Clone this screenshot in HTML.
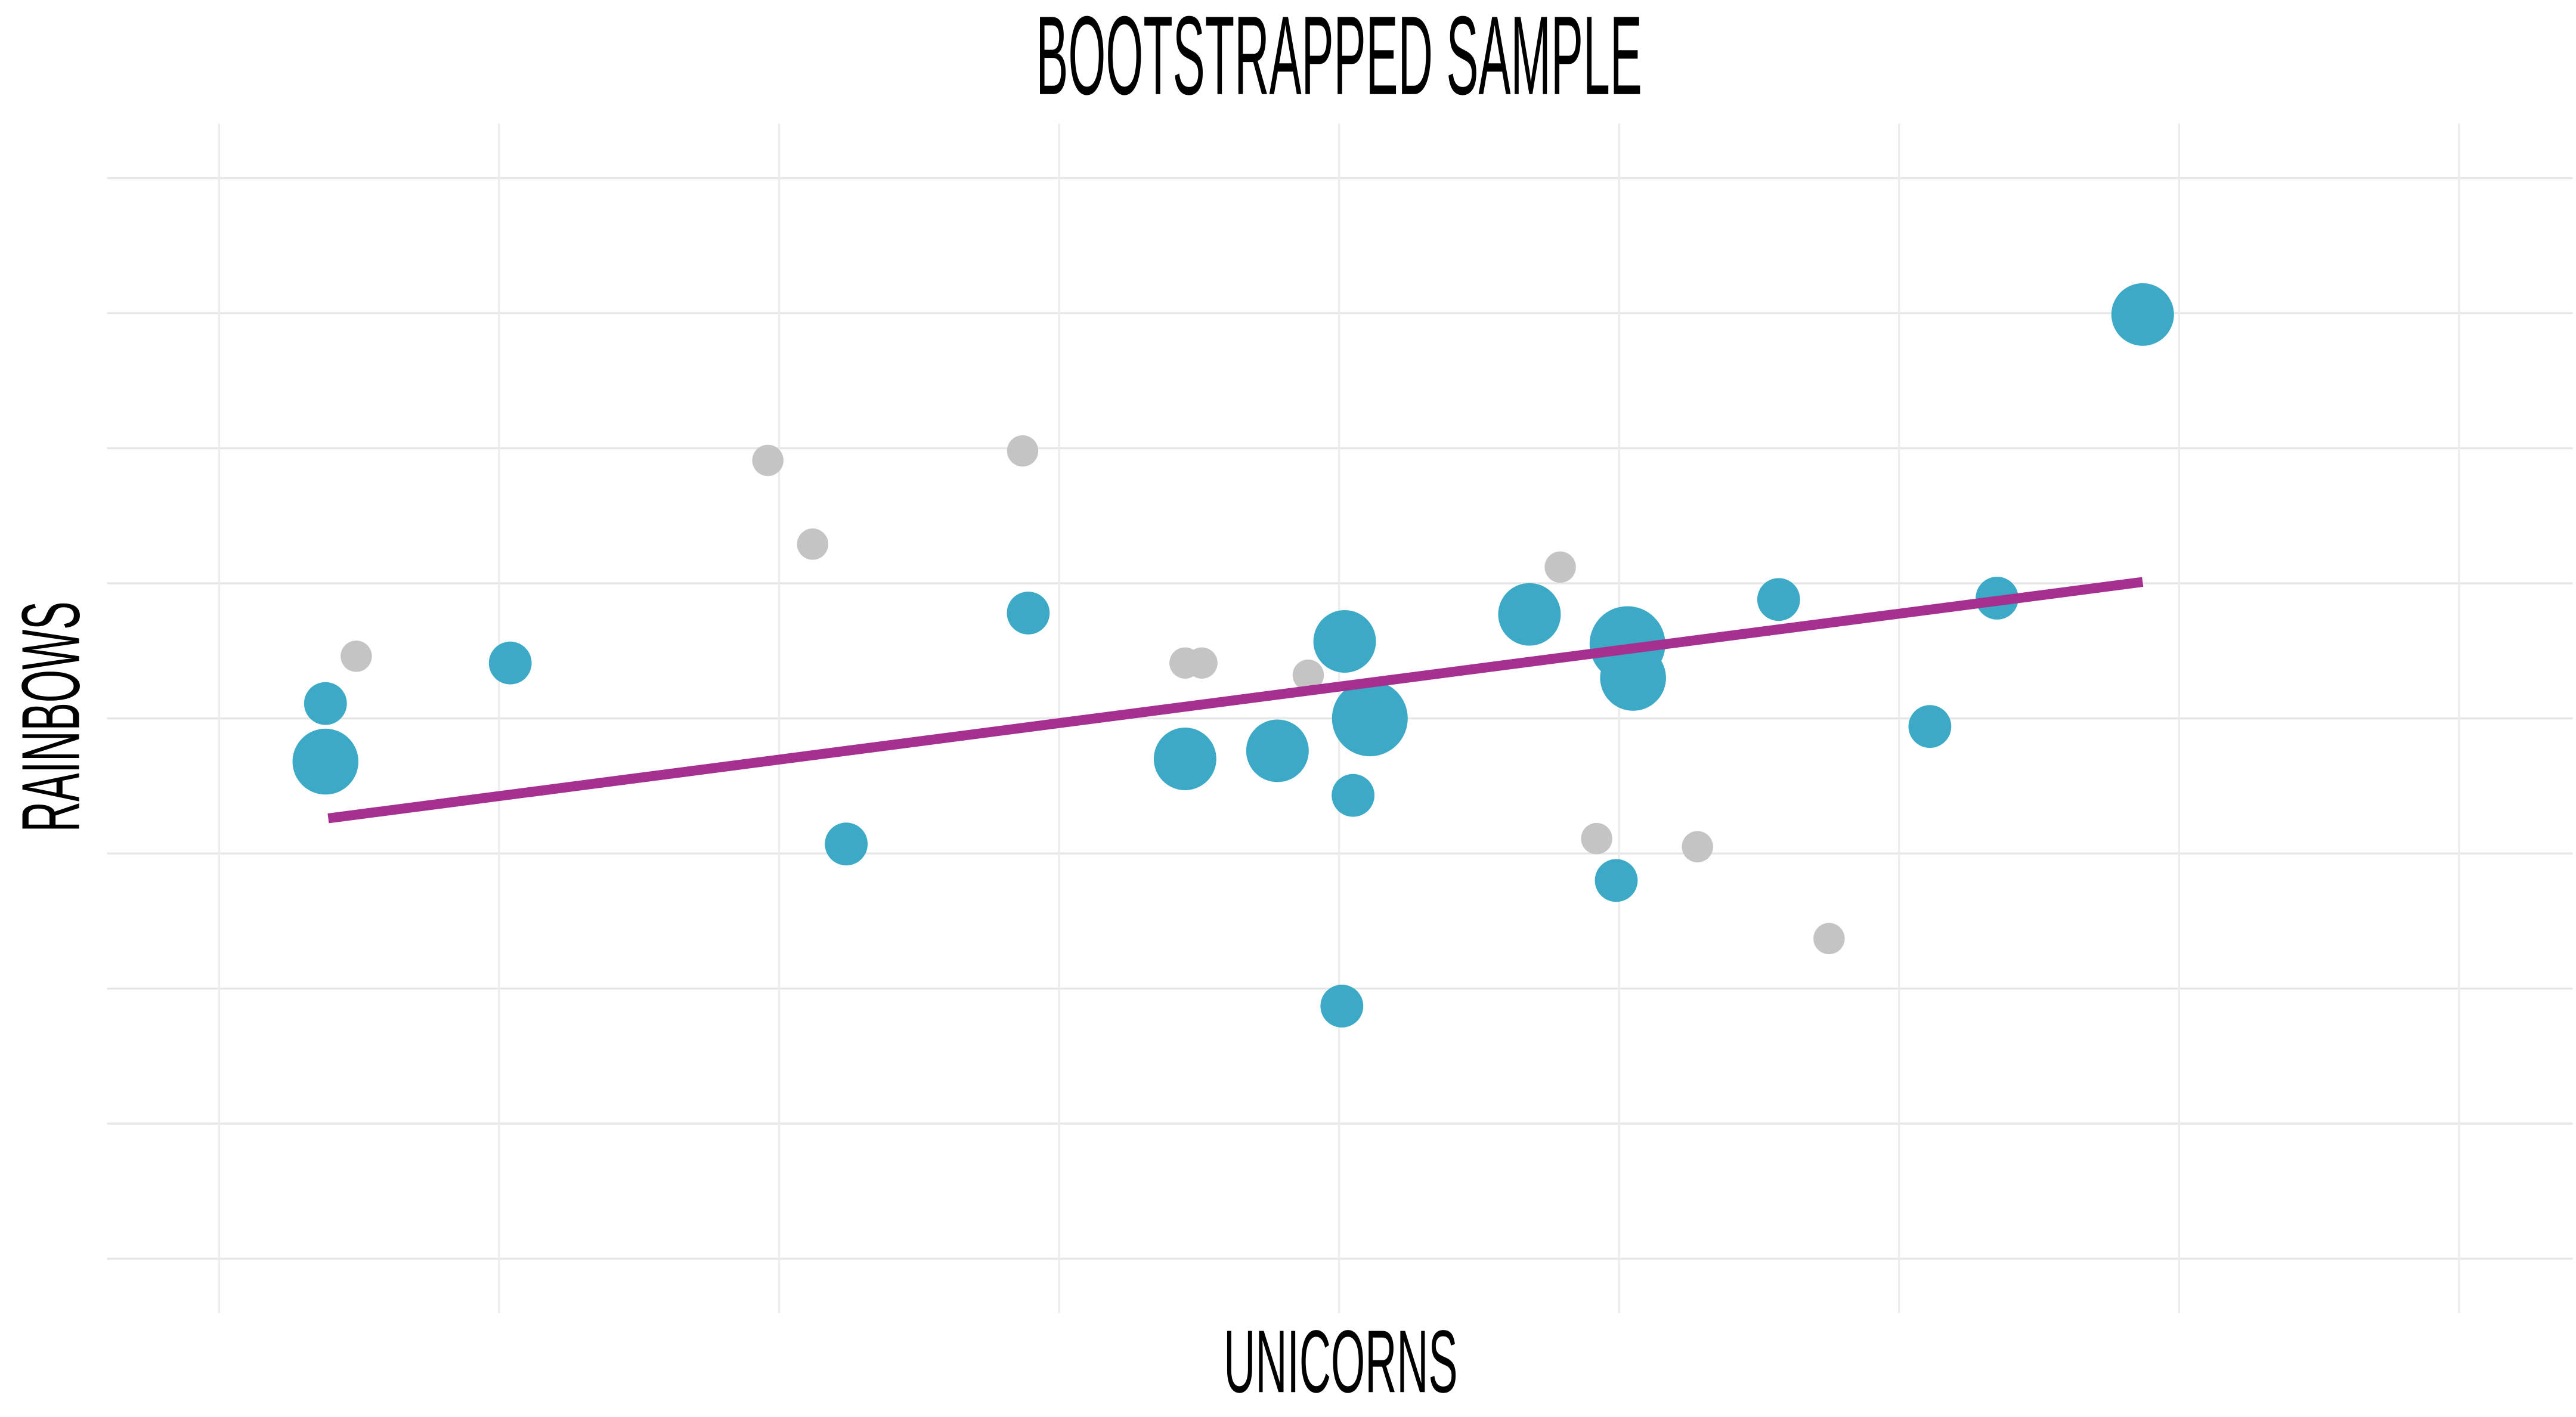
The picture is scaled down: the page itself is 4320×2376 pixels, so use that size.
<!DOCTYPE html>
<html><head><meta charset="utf-8"><style>
html,body{margin:0;padding:0;background:#fff;}
svg{display:block;}
text{font-family:"Liberation Sans Narrow","Liberation Sans",sans-serif;fill:#000;}
</style></head><body>
<svg id="chart" width="4320" height="2376" viewBox="0 0 1564 860" xmlns="http://www.w3.org/2000/svg">
<g id="grid"></g>
<g id="marks"></g>
<text x="813" y="57" text-anchor="middle" font-size="68" textLength="368" lengthAdjust="spacingAndGlyphs">BOOTSTRAPPED SAMPLE</text>
<text x="814" y="845" text-anchor="middle" font-size="54" textLength="142" lengthAdjust="spacingAndGlyphs">UNICORNS</text>
<text x="0" y="0" transform="translate(48,435) rotate(-90)" text-anchor="middle" font-size="50" textLength="140" lengthAdjust="spacingAndGlyphs">RAINBOWS</text>
</svg>
<script>
const blueX=[0.38,0.38,1.04,2.24,2.89,3.45,3.78,4.02,4.11,4.05,4.01,4.68,5.03,5.05,4.99,5.57,6.11,6.35,6.87];
const blueY=[3.68,4.11,4.41,3.07,4.78,3.70,3.76,4.57,4.0,3.43,1.87,4.77,4.55,4.30,2.80,4.88,3.94,4.89,6.99];
const blueSize=[20,13,13,13,13,19,19,19,23,13,13,19,23,20,13,13,13,13,19];
const greyX=[0.49,1.96,2.12,2.87,3.45,3.51,3.89,4.79,4.92,5.28,5.75];
const greyY=[4.46,5.91,5.29,5.98,4.41,4.41,4.32,5.12,3.11,3.05,2.37];
const fitX=[0.39,6.87];
const fitY=[3.26,5.01];
const xTicks=[0,1,2,3,4,5,6,7,8];
const yTicks=[0,1,2,3,4,5,6,7,8];
const NS='http://www.w3.org/2000/svg';
function sx(v){return 133+170*v;}
function sy(v){return 764-82*v;}
function mk(tag,attrs,parent){const e=document.createElementNS(NS,tag);for(const k in attrs)e.setAttribute(k,attrs[k]);parent.appendChild(e);return e;}
const grid=document.getElementById('grid'),marks=document.getElementById('marks');
yTicks.forEach(t=>{const l=mk('line',{x1:65,x2:1562,y1:sy(t),y2:sy(t),stroke:'#e6e6e6','stroke-width':1.2},grid);

});
xTicks.forEach(t=>{const l=mk('line',{x1:sx(t),x2:sx(t),y1:75,y2:797,stroke:'#ececec','stroke-width':1.2},grid);

});
greyX.forEach((x,i)=>{const c=mk('circle',{cx:sx(x),cy:sy(greyY[i]),r:9.5,fill:'#c4c4c4'},marks);

});
blueX.forEach((x,i)=>{const c=mk('circle',{cx:sx(x),cy:sy(blueY[i]),r:blueSize[i],fill:'#3caac6'},marks);

});
const fl=mk('line',{x1:sx(fitX[0]),y1:sy(fitY[0]),x2:sx(fitX[1]),y2:sy(fitY[1]),stroke:'#a5308f','stroke-width':6},marks);


</script>
</body></html>
